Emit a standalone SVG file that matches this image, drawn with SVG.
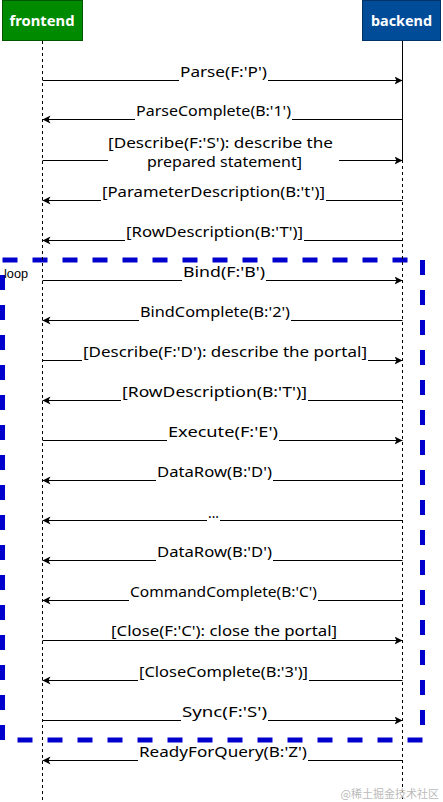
<svg xmlns="http://www.w3.org/2000/svg" width="443" height="802" viewBox="0 0 443 802">
<style>
.msg{stroke:#000;stroke-width:1;fill:none}
.fwd{marker-end:url(#arr)}
.lbl{font-family:"Noto Sans","DejaVu Sans",sans-serif;font-size:14px;fill:#000;text-anchor:middle}
.bg{fill:#fff}
.life{stroke:#000;stroke-width:1;stroke-dasharray:3 3;fill:none}
.head{font-family:"Noto Sans","DejaVu Sans",sans-serif;font-size:15px;font-weight:bold;fill:#fff;text-anchor:middle}
</style>
<defs>
<marker id="arr" markerUnits="userSpaceOnUse" markerWidth="9" markerHeight="9" refX="8" refY="4" orient="auto">
<path d="M0,0 L8,4 L0,8 L2,4 z" fill="#000"/>
</marker>
</defs>
<rect width="443" height="802" fill="#fff"/>
<g id="loop">
<rect x="2.5" y="260" width="420" height="480" fill="none" stroke="#0000CC" stroke-width="5" stroke-dasharray="15 15"/>
<text x="4" y="278" font-family="Liberation Sans, Arial, sans-serif" font-size="12" fill="#000" textLength="24" lengthAdjust="spacingAndGlyphs">loop</text>
</g>
<g id="lifelines">
<line class="life" x1="42.5" y1="41" x2="42.5" y2="802"/>
<line x1="402.5" y1="41" x2="402.5" y2="160" stroke="#000" stroke-width="1"/>
<line class="life" x1="402.5" y1="160" x2="402.5" y2="802"/>
</g>
<g id="frontend">
<rect x="2.5" y="0.5" width="80" height="40" fill="#008A00" stroke="#005700"/>
<text class="head" x="42" y="26" textLength="65" lengthAdjust="spacingAndGlyphs">frontend</text>
</g>
<g id="backend">
<rect x="362.5" y="0.5" width="78" height="40" fill="#004C99" stroke="#003366"/>
<text class="head" x="401.5" y="26" textLength="61" lengthAdjust="spacingAndGlyphs">backend</text>
</g>
<g id="connectors">
<line class="msg fwd" x1="42.5" y1="80.5" x2="402.5" y2="80.5"/>
<line class="msg fwd" x1="402.5" y1="119.5" x2="42.5" y2="119.5"/>
<line class="msg fwd" x1="42.5" y1="160.5" x2="402.5" y2="160.5"/>
<line class="msg fwd" x1="402.5" y1="200.5" x2="42.5" y2="200.5"/>
<line class="msg fwd" x1="402.5" y1="240.5" x2="42.5" y2="240.5"/>
<line class="msg fwd" x1="42.5" y1="280.5" x2="402.5" y2="280.5"/>
<line class="msg fwd" x1="402.5" y1="320.5" x2="42.5" y2="320.5"/>
<line class="msg fwd" x1="42.5" y1="360.5" x2="402.5" y2="360.5"/>
<line class="msg fwd" x1="402.5" y1="400.5" x2="42.5" y2="400.5"/>
<line class="msg fwd" x1="42.5" y1="440.5" x2="402.5" y2="440.5"/>
<line class="msg fwd" x1="402.5" y1="480.5" x2="42.5" y2="480.5"/>
<line class="msg fwd" x1="402.5" y1="520.5" x2="42.5" y2="520.5"/>
<line class="msg fwd" x1="402.5" y1="560.5" x2="42.5" y2="560.5"/>
<line class="msg fwd" x1="402.5" y1="600.5" x2="42.5" y2="600.5"/>
<line class="msg fwd" x1="42.5" y1="640.5" x2="402.5" y2="640.5"/>
<line class="msg fwd" x1="402.5" y1="680.5" x2="42.5" y2="680.5"/>
<line class="msg fwd" x1="42.5" y1="720.5" x2="402.5" y2="720.5"/>
<line class="msg fwd" x1="402.5" y1="760.5" x2="42.5" y2="760.5"/>
</g>
<g id="labels">
<rect class="bg" x="179" y="66" width="89" height="16"/>
<text class="lbl" x="223.5" y="77" textLength="87" lengthAdjust="spacingAndGlyphs">Parse(F:'P')</text>
<rect class="bg" x="135" y="105" width="157" height="16"/>
<text class="lbl" x="213.5" y="116" textLength="155" lengthAdjust="spacingAndGlyphs">ParseComplete(B:'1')</text>
<rect class="bg" x="108" y="136" width="231" height="36"/>
<text class="lbl" x="220.5" y="148" textLength="225" lengthAdjust="spacingAndGlyphs">[Describe(F:'S'): describe the</text>
<text class="lbl" x="224.5" y="167" textLength="155" lengthAdjust="spacingAndGlyphs">prepared statement]</text>
<rect class="bg" x="101" y="186" width="225" height="16"/>
<text class="lbl" x="213.5" y="197" textLength="223" lengthAdjust="spacingAndGlyphs">[ParameterDescription(B:'t')]</text>
<rect class="bg" x="125" y="226" width="179" height="16"/>
<text class="lbl" x="214.5" y="237" textLength="177" lengthAdjust="spacingAndGlyphs">[RowDescription(B:'T')]</text>
<rect class="bg" x="182" y="266" width="84" height="16"/>
<text class="lbl" x="224" y="277" textLength="82" lengthAdjust="spacingAndGlyphs">Bind(F:'B')</text>
<rect class="bg" x="139" y="306" width="152" height="16"/>
<text class="lbl" x="215" y="317" textLength="150" lengthAdjust="spacingAndGlyphs">BindComplete(B:'2')</text>
<rect class="bg" x="82" y="346" width="286" height="16"/>
<text class="lbl" x="225" y="357" textLength="284" lengthAdjust="spacingAndGlyphs">[Describe(F:'D'): describe the portal]</text>
<rect class="bg" x="121" y="386" width="187" height="16"/>
<text class="lbl" x="214.5" y="397" textLength="185" lengthAdjust="spacingAndGlyphs">[RowDescription(B:'T')]</text>
<rect class="bg" x="167" y="426" width="112" height="16"/>
<text class="lbl" x="223" y="437" textLength="110" lengthAdjust="spacingAndGlyphs">Execute(F:'E')</text>
<rect class="bg" x="156" y="466" width="117" height="16"/>
<text class="lbl" x="214.5" y="477" textLength="115" lengthAdjust="spacingAndGlyphs">DataRow(B:'D')</text>
<rect class="bg" x="207" y="506" width="13" height="16"/>
<text class="lbl" x="213.5" y="518" textLength="11" lengthAdjust="spacingAndGlyphs">...</text>
<rect class="bg" x="156" y="546" width="117" height="16"/>
<text class="lbl" x="214.5" y="557" textLength="115" lengthAdjust="spacingAndGlyphs">DataRow(B:'D')</text>
<rect class="bg" x="129" y="586" width="189" height="16"/>
<text class="lbl" x="223.5" y="597" textLength="187" lengthAdjust="spacingAndGlyphs">CommandComplete(B:'C')</text>
<text class="lbl" x="224" y="636" textLength="226" lengthAdjust="spacingAndGlyphs">[Close(F:'C'): close the portal]</text>
<rect class="bg" x="138" y="666" width="171" height="16"/>
<text class="lbl" x="223.5" y="677" textLength="169" lengthAdjust="spacingAndGlyphs">[CloseComplete(B:'3')]</text>
<rect class="bg" x="181" y="706" width="87" height="16"/>
<text class="lbl" x="224.5" y="717" textLength="85" lengthAdjust="spacingAndGlyphs">Sync(F:'S')</text>
<rect class="bg" x="138" y="746" width="170" height="16"/>
<text class="lbl" x="223" y="757" textLength="168" lengthAdjust="spacingAndGlyphs">ReadyForQuery(B:'Z')</text>
</g>
<text x="439" y="798" font-family="'Noto Sans CJK SC', sans-serif" font-size="11" fill="#bbbbbb" text-anchor="end">@稀土掘金技术社区</text>
</svg>
